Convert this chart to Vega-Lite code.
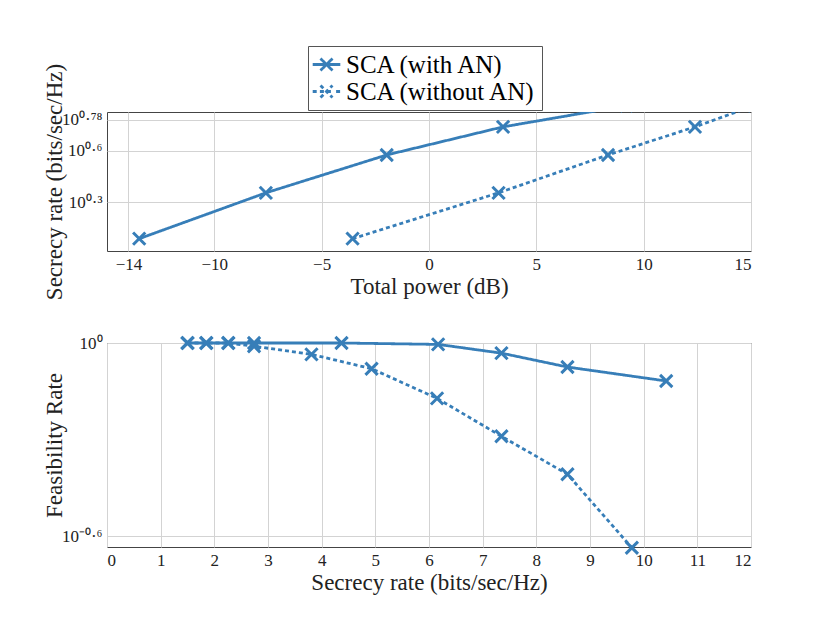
{
  "$schema": "https://vega.github.io/schema/vega-lite/v6.json",
  "padding": {"left": 42, "top": 45, "right": 5, "bottom": 5},
  "datasets": {
    "power": [
      {"series": "SCA (with AN)", "power": -13.5, "rate": 1.229},
      {"series": "SCA (with AN)", "power": -7.6, "rate": 2.27},
      {"series": "SCA (with AN)", "power": -1.97, "rate": 3.77},
      {"series": "SCA (with AN)", "power": 3.45, "rate": 5.49},
      {"series": "SCA (with AN)", "power": 9.2, "rate": 7.3},
      {"series": "SCA (without AN)", "power": -3.56, "rate": 1.229},
      {"series": "SCA (without AN)", "power": 3.24, "rate": 2.27},
      {"series": "SCA (without AN)", "power": 8.34, "rate": 3.77},
      {"series": "SCA (without AN)", "power": 12.39, "rate": 5.49},
      {"series": "SCA (without AN)", "power": 15.15, "rate": 7.3}
    ],
    "feas": [
      {"series": "SCA (with AN)", "rate": 1.5, "feasibility": 1},
      {"series": "SCA (with AN)", "rate": 1.85, "feasibility": 1},
      {"series": "SCA (with AN)", "rate": 2.26, "feasibility": 1},
      {"series": "SCA (with AN)", "rate": 2.74, "feasibility": 1},
      {"series": "SCA (with AN)", "rate": 4.37, "feasibility": 1},
      {"series": "SCA (with AN)", "rate": 6.17, "feasibility": 0.99},
      {"series": "SCA (with AN)", "rate": 7.35, "feasibility": 0.93},
      {"series": "SCA (with AN)", "rate": 8.58, "feasibility": 0.842},
      {"series": "SCA (with AN)", "rate": 10.42, "feasibility": 0.762},
      {"series": "SCA (without AN)", "rate": 1.5, "feasibility": 1},
      {"series": "SCA (without AN)", "rate": 1.85, "feasibility": 1},
      {"series": "SCA (without AN)", "rate": 2.26, "feasibility": 1},
      {"series": "SCA (without AN)", "rate": 2.74, "feasibility": 0.977},
      {"series": "SCA (without AN)", "rate": 3.81, "feasibility": 0.922},
      {"series": "SCA (without AN)", "rate": 4.93, "feasibility": 0.832},
      {"series": "SCA (without AN)", "rate": 6.15, "feasibility": 0.673},
      {"series": "SCA (without AN)", "rate": 7.35, "feasibility": 0.513},
      {"series": "SCA (without AN)", "rate": 8.58, "feasibility": 0.391},
      {"series": "SCA (without AN)", "rate": 9.78, "feasibility": 0.231}
    ]
  },
  "spacing": 29,
  "vconcat": [
    {
      "width": 644,
      "height": 139,
      "data": {"name": "power"},
      "encoding": {
        "x": {
          "field": "power",
          "type": "quantitative",
          "title": "Total power (dB)",
          "scale": {"domain": [-15, 15], "nice": false, "zero": false},
          "axis": {"values": [-14, -10, -5, 0, 5, 10, 15]}
        },
        "y": {
          "field": "rate",
          "type": "quantitative",
          "title": "Secrecy rate (bits/sec/Hz)",
          "scale": {"type": "log", "domain": [1.042, 6.7], "nice": false},
          "axis": {
            "values": [1.99526, 3.98107, 6.0256],
            "labelExpr": "datum.value < 2.5 ? '10⁰·³' : datum.value < 5 ? '10⁰·⁶' : '10⁰·⁷⁸'",
            "titleX": -41,
            "titleY": 69.5
          }
        }
      },
      "layer": [
        {
          "mark": {"type": "line", "clip": true, "strokeWidth": 2.8, "color": "#377eb8"},
          "encoding": {
            "strokeDash": {
              "field": "series",
              "type": "nominal",
              "scale": {"domain": ["SCA (with AN)", "SCA (without AN)"], "range": [[1, 0], [4, 3]]},
              "legend": {
                "orient": "none",
                "legendX": 201,
                "legendY": -66,
                "title": null,
                "direction": "vertical",
                "strokeColor": "#555",
                "fillColor": "white",
                "padding": 5,
                "labelFont": "Liberation Serif",
                "labelFontSize": 25,
                "labelLimit": 400,
                "labelColor": "black",
                "labelOffset": 6,
                "rowPadding": 0,
                "symbolSize": 576,
                "symbolStrokeWidth": 2.8,
                "symbolStrokeColor": "#377eb8",
                "symbolType": "M-1.15,0H1.15M-0.5,-0.5L0.5,0.5M-0.5,0.5L0.5,-0.5",
                "encode": {
                  "symbols": {
                    "update": {
                      "shape": {"signal": "datum.value === 'SCA (with AN)' ? 'M-1.15,0H1.15M-0.5,-0.5L0.5,0.5M-0.5,0.5L0.5,-0.5' : 'M-1.15,0H-0.8M-0.55,0H0.55M0.8,0H1.15M-0.5,-0.5L0.5,0.5M-0.5,0.5L0.5,-0.5'"},
                      "strokeDash": {"value": [1, 0]}
                    }
                  }
                }
              }
            }
          }
        },
        {
          "mark": {
            "type": "point",
            "clip": true,
            "shape": "M-1,-1L1,1M-1,1L1,-1",
            "filled": false,
            "size": 150,
            "strokeWidth": 3,
            "color": "#377eb8",
            "opacity": 1
          },
          "encoding": {}
        }
      ]
    },
    {
      "width": 644,
      "height": 204,
      "data": {"name": "feas"},
      "encoding": {
        "x": {
          "field": "rate",
          "type": "quantitative",
          "title": "Secrecy rate (bits/sec/Hz)",
          "scale": {"domain": [0, 12], "nice": false},
          "axis": {"values": [0, 1, 2, 3, 4, 5, 6, 7, 8, 9, 10, 11, 12]}
        },
        "y": {
          "field": "feasibility",
          "type": "quantitative",
          "title": "Feasibility Rate",
          "scale": {"type": "log", "domain": [0.2323, 1], "nice": false},
          "axis": {
            "values": [0.25119, 1],
            "labelExpr": "datum.value > 0.5 ? '10⁰' : '10⁻⁰·⁶'",
            "titleX": -41,
            "titleY": 102
          }
        }
      },
      "layer": [
        {
          "mark": {"type": "line", "strokeWidth": 2.8, "color": "#377eb8"},
          "encoding": {
            "strokeDash": {
              "field": "series",
              "type": "nominal",
              "scale": {"domain": ["SCA (with AN)", "SCA (without AN)"], "range": [[1, 0], [4, 3]]},
              "legend": null
            }
          }
        },
        {
          "mark": {
            "type": "point",
            "shape": "M-1,-1L1,1M-1,1L1,-1",
            "filled": false,
            "size": 150,
            "strokeWidth": 3,
            "color": "#377eb8",
            "opacity": 1
          },
          "encoding": {}
        }
      ]
    }
  ],
  "resolve": {"legend": {"strokeDash": "independent"}},
  "config": {
    "font": "Liberation Serif",
    "view": {"stroke": "#444", "strokeWidth": 1},
    "axis": {
      "grid": true,
      "gridColor": "#d3d3d3",
      "domain": false,
      "ticks": false,
      "labelFont": "Liberation Serif",
      "labelFontSize": 17,
      "labelColor": "#222",
      "labelPadding": 5,
      "titleFont": "Liberation Serif",
      "titleFontSize": 23,
      "titleFontWeight": "normal",
      "titleColor": "#222",
      "titlePadding": 3
    }
  }
}
